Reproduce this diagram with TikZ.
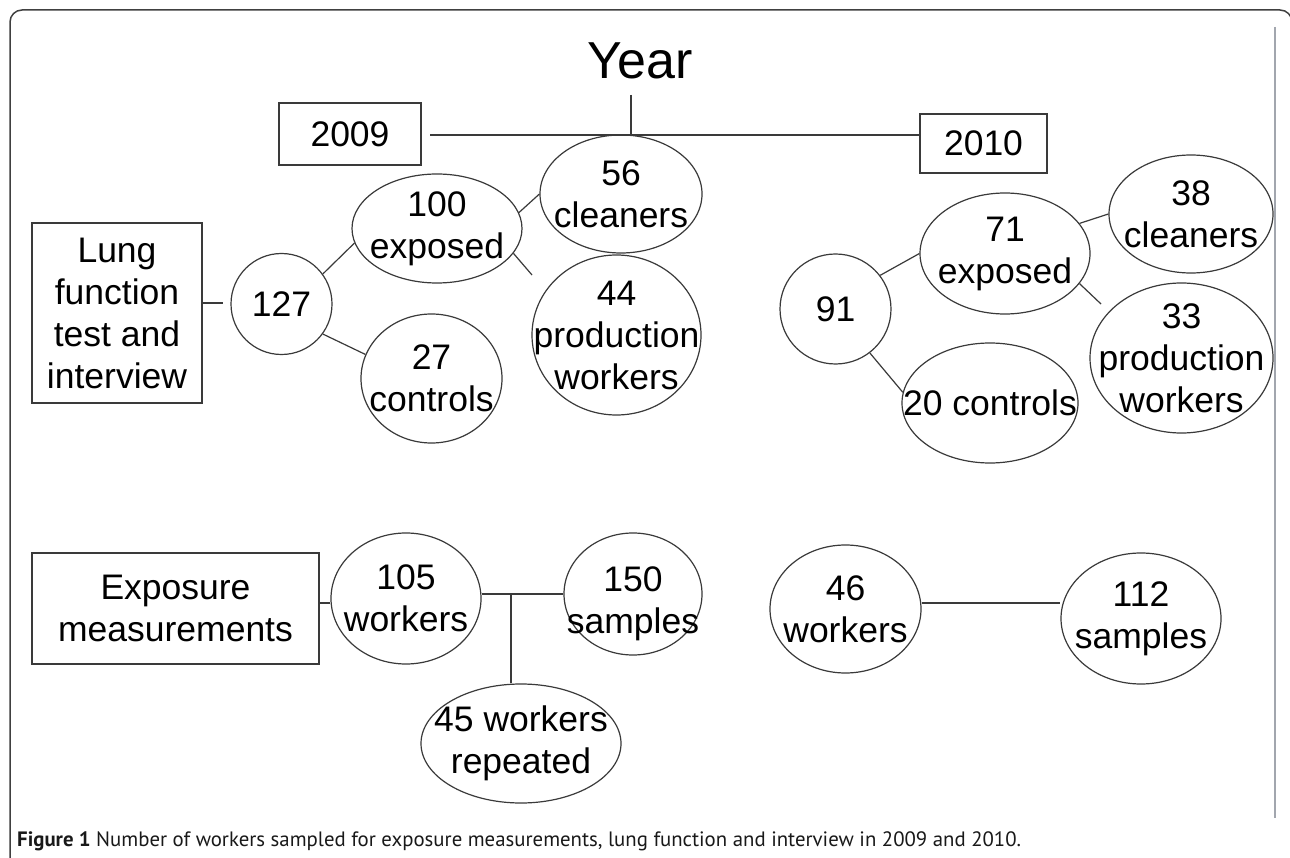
\documentclass[tikz,border=0pt]{standalone}
\usepackage{fontspec}
\setmainfont{Liberation Sans}
\newfontfamily\capfont{PT Sans}
\usetikzlibrary{shapes.geometric}
\definecolor{ln}{HTML}{3A3A3A}
\definecolor{gl}{HTML}{A2A6AE}
\begin{document}
\begin{tikzpicture}[x=1pt,y=-1pt,
  every node/.style={font=\fontsize{35.5}{42}\selectfont, text=black},
  ell/.style={ellipse, draw=ln, line width=1.2pt, inner sep=0pt},
  box/.style={rectangle, draw=ln, line width=1.2pt, inner sep=0pt, align=center},
  lbl/.style={align=center, inner sep=0pt},
  conn/.style={draw=ln, line width=1.2pt}]
\useasboundingbox (0,0) rectangle (1290,858);
\clip (0,0) rectangle (1290,858);
\fill[white] (0,0) rectangle (1290,858);
% frame
\draw[line width=1.5pt, draw=black!75, rounded corners=12pt] (10,10) rectangle (1292,900);
\draw[gl, line width=2pt] (1275,27) -- (1275,818);

% title and years
\node[font=\fontsize{52}{60}\selectfont, inner sep=0pt, anchor=base] (year) at (640,79) {Year};
\node[box, minimum width=142pt, minimum height=62pt] (y2009) at (350,134) {2009};
\node[box, minimum width=127pt, minimum height=59pt] (y2010) at (983.5,143.5) {2010};
\coordinate (ytop) at (631,95);
\coordinate (yj) at (631,135);
\coordinate (hs) at (430,135);
\draw[conn] (ytop) -- (yj);
\draw[conn] (hs) -- (yj -| y2010.west);

% lung function 2009
\node[box, minimum width=170pt, minimum height=180pt] (lung) at (117,313) {Lung\\function\\test and\\interview};
\node[ell, minimum width=101pt, minimum height=101pt, label={[lbl]center:{127}}] (c127) at (281.5,304) {};
\node[ell, minimum width=170pt, minimum height=109pt, label={[lbl]center:{100\\exposed}}] (e100) at (437,228.5) {};
\node[ell, minimum width=141pt, minimum height=129pt, label={[lbl]center:{27\\controls}}] (e27) at (431.5,378.5) {};
\node[ell, minimum width=162pt, minimum height=118pt, label={[lbl]center:{56\\cleaners}}] (e56) at (621,194) {};
\node[ell, minimum width=169pt, minimum height=160pt, label={[lbl]center:{44\\production\\workers}}] (e44) at (616.5,335) {};
\coordinate (jl) at (223,303);
\coordinate (f44) at (532,275);
\draw[conn] (jl -| lung.east) -- (jl);
\draw[conn] (c127.36) -- (e100.190);
\draw[conn] (c127.-36) -- (e27.160);
\draw[conn] (e100.11) -- (e56.180);
\draw[conn] (e100.-18) -- (f44);

% lung function 2010
\node[ell, minimum width=111pt, minimum height=110pt, label={[lbl]center:{91}}] (c91) at (835.5,309) {};
\node[ell, minimum width=170pt, minimum height=121pt, label={[lbl]center:{71\\exposed}}] (e71) at (1005,253.5) {};
\node[ell, minimum width=164pt, minimum height=118pt, label={[lbl]center:{38\\cleaners}}] (e38) at (1191,214) {};
\node[ell, minimum width=183pt, minimum height=150pt, label={[lbl]center:{33\\production\\workers}}] (e33) at (1181.5,358) {};
\node[ell, minimum width=176pt, minimum height=120pt, label={[lbl]center:{20 controls}}] (e20) at (990,403) {};
\coordinate (f33) at (1101,304);
\draw[conn] (c91.37) -- (e71.180);
\draw[conn] (c91.-52) -- (e20.173);
\draw[conn] (e71.22) -- (e38.180);
\draw[conn] (e71.-22) -- (f33);

% exposure measurements
\node[box, minimum width=287pt, minimum height=111pt] (expo) at (175.5,608.5) {Exposure\\measurements};
\node[ell, minimum width=150pt, minimum height=131pt, label={[lbl]center:{105\\workers}}] (e105) at (406,598.5) {};
\node[ell, minimum width=138pt, minimum height=122pt, label={[lbl,yshift=-10pt]center:{150\\samples}}] (e150) at (633,594) {};
\node[ell, minimum width=200pt, minimum height=119pt, label={[lbl]center:{45 workers\\repeated}}] (e45) at (521,743.5) {};
\node[ell, minimum width=151pt, minimum height=128pt, label={[lbl]center:{46\\workers}}] (e46) at (845.5,609) {};
\node[ell, minimum width=160pt, minimum height=131pt, label={[lbl]center:{112\\samples}}] (e112) at (1141,618.5) {};
\coordinate (je) at (325,603);
\coordinate (j2) at (511,594);
\coordinate (j3) at (990,603);
\draw[conn] (je -| expo.east) -- (je -| e105.west);
\draw[conn] (j2 -| e105.east) -- (j2 -| e150.west);
\draw[conn] (j2) -- (j2 |- e45.north);
\draw[conn] (j3 -| e46.east) -- (j3 -| e112.west);

% caption
\node[anchor=base west, inner sep=0pt, font=\capfont\fontsize{20.8}{24}\selectfont, text=black!90] (cap) at (17,846) {\textbf{Figure 1} Number of workers sampled for exposure measurements, lung function and interview in 2009 and 2010.};
\end{tikzpicture}
\end{document}
